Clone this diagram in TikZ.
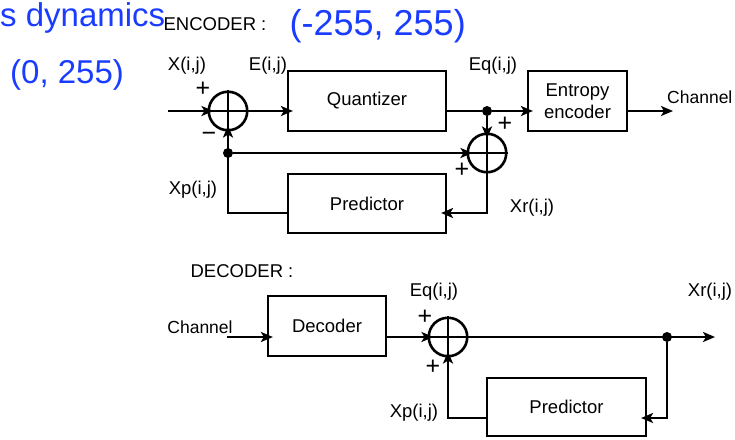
\documentclass[tikz,border=0pt]{standalone}
\usepackage{fontspec}
\setmainfont{Liberation Sans}
\usepackage{xcolor}
\definecolor{SlideBlue}{HTML}{1A3CFF}
\usetikzlibrary{arrows.meta,positioning}

\begin{document}
\begin{tikzpicture}[x=1pt,y=-1pt,
  blockbox/.style={draw,line width=2.2pt,inner sep=0pt,
    font=\fontsize{18.5}{22}\selectfont,align=center},
  sumnode/.style={draw,circle,line width=2.6pt,
    minimum size=38.5pt,inner sep=0pt},
  wire/.style={line width=2.4pt},
  arr/.style={wire,-{Stealth[length=12pt,width=10pt,inset=3pt]}},
  arrin/.style={arr,shorten >=-6pt},
  jdot/.style={circle,fill,inner sep=0pt,minimum size=10pt},
  lbl/.style={font=\fontsize{18.5}{22}\selectfont,inner sep=0pt},
  chlbl/.style={font=\fontsize{17.5}{21}\selectfont,inner sep=0pt},
  sgn/.style={font=\fontsize{25}{25}\selectfont,inner sep=0pt},
  slide/.style={text=SlideBlue,inner sep=0pt,anchor=base west}]
  \useasboundingbox (0,0) rectangle (735,439);
  % Encoder
  \node[blockbox,minimum width=158pt,minimum height=60pt](QZ) at (367,101)
    {Quantizer};
  \node[blockbox,minimum width=99pt,minimum height=60pt](EE) at (577.5,101)
    {Entropy\\encoder};
  \node[blockbox,minimum width=158pt,minimum height=59pt](PE) at (367,203.5)
    {Predictor};
  \node[sumnode](S1) at (228,111){};
  \node[sumnode](S2) at (487,153){};
  \node[jdot](J1) at (487,111){};
  \node[jdot](J2) at (228,153){};
  \coordinate(XIN) at (168,111);
  \coordinate(CHO) at (673,111);
  \coordinate(RL) at (487,213);
  \draw[wire](S1.north)--(S1.south)(S1.west)--(S1.east);
  \draw[wire](S2.north)--(S2.south)(S2.west)--(S2.east);
  \draw[arrin](XIN)--(S1.west);
  \draw[arrin](S1.east)--(S1.east-|QZ.west);
  \draw[wire](J1-|QZ.east)--(J1);
  \draw[arrin](J1)--(J1-|EE.west);
  \draw[arr](CHO-|EE.east)--(CHO);
  \draw[arrin](J1)--(S2.north);
  \draw[arrin](J2)--(S2.west);
  \draw[arrin](S2.south)--(RL)--(RL-|PE.east);
  \draw[arrin](RL-|PE.west)-|(S1.south);
  \node[lbl](ENC) at (215,24){ENCODER :};
  \node[lbl](LX) at (187,66){X(i,j)};
  \node[lbl](LE) at (268,66){E(i,j)};
  \node[lbl](LEQ) at (493,66){Eq(i,j)};
  \node[chlbl,anchor=west](LCH) at (667,97){Channel};
  \node[lbl](LXP) at (193,190){Xp(i,j)};
  \node[lbl](LXR) at (532,208){Xr(i,j)};
  \node[sgn](P1) at (203,89){+};
  \node[sgn](M1) at (209,137){−};
  \node[sgn](P2) at (505,124){+};
  \node[sgn](P3) at (462,170){+};
  % Decoder
  \node[blockbox,minimum width=118pt,minimum height=60pt](DC) at (327,326)
    {Decoder};
  \node[blockbox,minimum width=159pt,minimum height=58pt](PD) at (566.5,407)
    {Predictor};
  \node[sumnode](S3) at (448,337){};
  \node[jdot](J3) at (667,337){};
  \coordinate(DIN) at (227,337);
  \coordinate(DOUT) at (715,337);
  \coordinate(RD) at (667,418);
  \draw[wire](S3.north)--(S3.south)(S3.west)--(S3.east);
  \draw[arrin](DIN)--(DIN-|DC.west);
  \draw[arrin](DIN-|DC.east)--(S3.west);
  \draw[arr](S3.east)--(DOUT);
  \draw[arrin](J3)--(RD)--(RD-|PD.east);
  \draw[arrin](RD-|PD.west)-|(S3.south);
  \node[lbl](DECL) at (242,271){DECODER :};
  \node[chlbl](LCHI) at (200,327){Channel};
  \node[lbl](LEQ2) at (434,292){Eq(i,j)};
  \node[lbl](LXR2) at (710,292){Xr(i,j)};
  \node[lbl](LXP2) at (414,413){Xp(i,j)};
  \node[sgn](P4) at (425,317){+};
  \node[sgn](P5) at (433,367){+};
  % Slide text
  \node[slide,font=\fontsize{33}{40}\selectfont](BL1) at (0,26){s dynamics};
  \node[slide,font=\fontsize{33}{40}\selectfont](BL2) at (10,83){(0, 255)};
  \node[slide,font=\fontsize{36}{40}\selectfont](BL3) at (289.5,35)
    {(-255, 255)};
\end{tikzpicture}
\end{document}
